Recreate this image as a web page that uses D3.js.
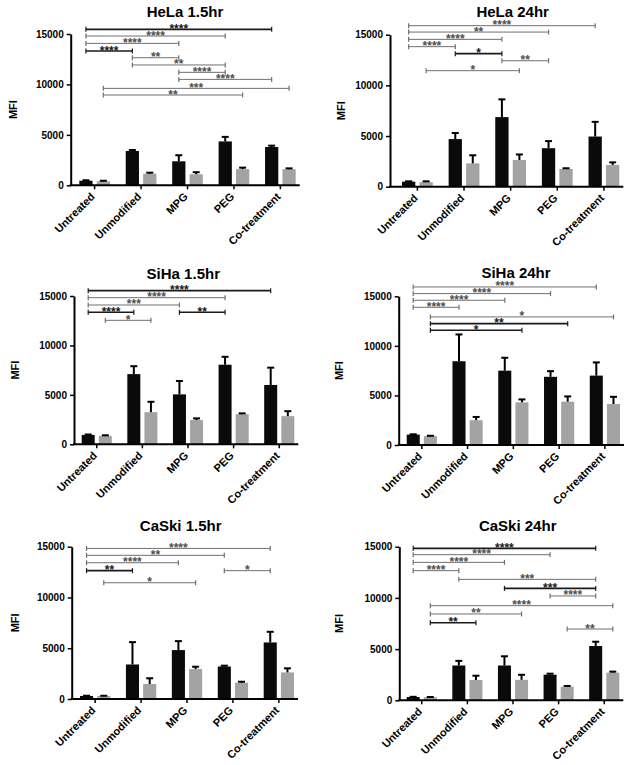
<!DOCTYPE html>
<html>
<head>
<meta charset="utf-8">
<script src="https://cdn.jsdelivr.net/npm/d3@7"></script>
<style>
  body { margin: 0; background: #fff; }
  svg { display: block; }
  text { font-family: Arial, "Liberation Sans", sans-serif; }
</style>
</head>
<body>
<div id="chart"></div>
<script>
// categories and series
const categories = ["Untreated", "Unmodified", "MPG", "PEG", "Co-treatment"];
const series = ["black", "grey"];
const yTicks = [0, 5000, 10000, 15000];
const titles = ["HeLa 1.5hr", "HeLa 24hr", "SiHa 1.5hr", "SiHa 24hr", "CaSki 1.5hr", "CaSki 24hr"];

// HeLa 1.5hr
const hela15Black = [450, 3400, 2380, 4350, 3800];
const hela15BlackErr = [50, 100, 600, 450, 130];
const hela15Grey = [400, 1150, 1100, 1600, 1600];
const hela15GreyErr = [50, 100, 200, 150, 80];
// [from category, from series, to category, to series, MFI level, stars, dark line]
const hela15Sig = [
  [0, 0, 4, 0, 15460, "****", 1],
  [0, 0, 3, 0, 14800, "****", 0],
  [0, 0, 2, 0, 14070, "****", 0],
  [0, 0, 1, 0, 13310, "****", 1],
  [1, 0, 2, 0, 12650, "**", 0],
  [1, 0, 3, 0, 11930, "**", 0],
  [2, 0, 3, 0, 11200, "****", 0],
  [2, 0, 4, 0, 10500, "****", 0],
  [0, 1, 4, 1, 9610, "***", 0],
  [0, 1, 3, 1, 8950, "**", 0]
];

// HeLa 24hr
const hela24Black = [500, 4700, 6870, 3800, 4950];
const hela24BlackErr = [30, 600, 1750, 700, 1450];
const hela24Grey = [450, 2300, 2630, 1750, 2150];
const hela24GreyErr = [80, 800, 550, 70, 250];
const hela24Sig = [
  [0, 0, 4, 0, 15890, "****", 0],
  [0, 0, 3, 0, 15260, "**", 0],
  [0, 0, 2, 0, 14540, "****", 0],
  [0, 0, 1, 0, 13820, "****", 0],
  [1, 0, 2, 0, 13130, "*", 1],
  [2, 0, 3, 0, 12430, "**", 0],
  [0, 1, 2, 1, 11450, "*", 0]
];

// SiHa 1.5hr
const siha15Black = [950, 7100, 5050, 8050, 6000];
const siha15BlackErr = [40, 800, 1350, 800, 1750];
const siha15Grey = [850, 3250, 2450, 3050, 2850];
const siha15GreyErr = [60, 1050, 170, 80, 500];
const siha15Sig = [
  [0, 0, 4, 0, 15540, "****", 1],
  [0, 0, 3, 0, 14830, "****", 0],
  [0, 0, 2, 0, 14090, "***", 0],
  [0, 0, 1, 0, 13350, "****", 1],
  [2, 0, 3, 0, 13350, "**", 1],
  [0, 1, 1, 1, 12540, "*", 0]
];

// SiHa 24hr
const siha24Black = [1050, 8450, 7500, 6880, 7000];
const siha24BlackErr = [30, 2700, 1300, 570, 1330];
const siha24Grey = [900, 2500, 4300, 4370, 4130];
const siha24GreyErr = [30, 330, 300, 530, 730];
const siha24Sig = [
  [0, 0, 4, 0, 15940, "****", 0],
  [0, 0, 3, 0, 15270, "****", 0],
  [0, 0, 2, 0, 14600, "****", 0],
  [0, 0, 1, 0, 13890, "****", 0],
  [0, 1, 4, 1, 12920, "*", 0],
  [0, 1, 3, 1, 12240, "**", 1],
  [0, 1, 2, 1, 11570, "*", 1]
];

// CaSki 1.5hr
const caski15Black = [300, 3400, 4820, 3200, 5570];
const caski15BlackErr = [20, 2200, 880, 80, 1050];
const caski15Grey = [300, 1480, 2950, 1600, 2620];
const caski15GreyErr = [20, 560, 230, 100, 400];
const caski15Sig = [
  [0, 0, 4, 0, 14830, "****", 0],
  [0, 0, 3, 0, 14150, "**", 0],
  [0, 0, 2, 0, 13420, "****", 0],
  [0, 0, 1, 0, 12640, "**", 1],
  [3, 0, 4, 0, 12640, "*", 0],
  [0, 1, 2, 1, 11450, "*", 0]
];

// CaSki 24hr
const caski24Black = [320, 3400, 3400, 2500, 5300];
const caski24BlackErr = [20, 450, 900, 100, 420];
const caski24Grey = [300, 1980, 2000, 1330, 2700];
const caski24GreyErr = [20, 420, 490, 70, 100];
const caski24Sig = [
  [0, 0, 4, 0, 14840, "****", 1],
  [0, 0, 3, 0, 14220, "****", 0],
  [0, 0, 2, 0, 13470, "****", 0],
  [0, 0, 1, 0, 12660, "****", 0],
  [1, 0, 4, 0, 11810, "***", 0],
  [2, 0, 4, 0, 10930, "***", 1],
  [3, 0, 4, 0, 10190, "****", 0],
  [0, 1, 4, 1, 9240, "****", 0],
  [0, 1, 2, 1, 8430, "**", 0],
  [0, 1, 1, 1, 7580, "**", 1],
  [3, 1, 4, 1, 6960, "**", 0]
];

const panelData = [
  [hela15Black, hela15BlackErr, hela15Grey, hela15GreyErr, hela15Sig],
  [hela24Black, hela24BlackErr, hela24Grey, hela24GreyErr, hela24Sig],
  [siha15Black, siha15BlackErr, siha15Grey, siha15GreyErr, siha15Sig],
  [siha24Black, siha24BlackErr, siha24Grey, siha24GreyErr, siha24Sig],
  [caski15Black, caski15BlackErr, caski15Grey, caski15GreyErr, caski15Sig],
  [caski24Black, caski24BlackErr, caski24Grey, caski24GreyErr, caski24Sig]
];

// layout of each panel (pixels)
const layout = [
  { axisX: 70.7, yTop: 34, yBase: 185.3, barStart: 79.3, barEnd: 295.7, titleX: 185, titleY: 16.5, mfiX: 13.3 },
  { axisX: 390, yTop: 34.7, yBase: 186.7, barStart: 402, barEnd: 619.3, titleX: 512.7, titleY: 16.5, mfiX: 341 },
  { axisX: 74, yTop: 296, yBase: 444.3, barStart: 81.7, barEnd: 294.3, titleX: 183.3, titleY: 278.5, mfiX: 15 },
  { axisX: 398.7, yTop: 296.3, yBase: 445, barStart: 406.7, barEnd: 620, titleX: 516, titleY: 278, mfiX: 339.3 },
  { axisX: 71.7, yTop: 546.7, yBase: 699, barStart: 80, barEnd: 294, titleX: 180.7, titleY: 530.5, mfiX: 15 },
  { axisX: 399.3, yTop: 546.7, yBase: 700.3, barStart: 406.7, barEnd: 619.3, titleX: 517.7, titleY: 530.5, mfiX: 339.3 }
];

const barColors = { black: "#0a0a0a", grey: "#a3a3a3" };

const svg = d3.select("#chart").append("svg")
  .attr("width", 633)
  .attr("height", 765)
  .style("background", "#fff");

panelData.forEach((pd, i) => {
  const L = layout[i];
  const [bMean, bErr, gMean, gErr, sig] = pd;
  const g = svg.append("g");

  const x = d3.scaleBand()
    .domain(categories)
    .range([L.barStart, L.barEnd])
    .paddingInner(0.34)
    .paddingOuter(0);

  const xs = d3.scaleBand()
    .domain(series)
    .range([0, x.bandwidth()])
    .paddingInner(0.24);

  const y = d3.scaleLinear().domain([0, 15000]).range([L.yBase, L.yTop]);

  const bars = [];
  categories.forEach((c, k) => {
    bars.push({ cat: c, ser: "black", v: bMean[k], e: bErr[k] });
    bars.push({ cat: c, ser: "grey", v: gMean[k], e: gErr[k] });
  });

  // bars
  g.selectAll("rect.bar")
    .data(bars)
    .enter().append("rect")
    .attr("class", "bar")
    .attr("x", d => x(d.cat) + xs(d.ser))
    .attr("y", d => y(d.v))
    .attr("width", xs.bandwidth())
    .attr("height", d => L.yBase - y(d.v))
    .attr("fill", d => barColors[d.ser]);

  // error bars (upper only)
  const cx = d => x(d.cat) + xs(d.ser) + xs.bandwidth() / 2;
  g.selectAll("line.err")
    .data(bars)
    .enter().append("line")
    .attr("class", "err")
    .attr("x1", cx).attr("x2", cx)
    .attr("y1", d => y(d.v)).attr("y2", d => y(d.v + d.e))
    .attr("stroke", "#000").attr("stroke-width", 2);
  g.selectAll("line.cap")
    .data(bars)
    .enter().append("line")
    .attr("class", "cap")
    .attr("x1", d => cx(d) - 3.5).attr("x2", d => cx(d) + 3.5)
    .attr("y1", d => y(d.v + d.e)).attr("y2", d => y(d.v + d.e))
    .attr("stroke", "#000").attr("stroke-width", 2);

  // y axis
  const yAxis = g.append("g")
    .attr("transform", `translate(${L.axisX},0)`)
    .call(d3.axisLeft(y).tickValues(yTicks).tickSize(4).tickSizeOuter(0).tickPadding(3).tickFormat(d3.format("d")));
  yAxis.select(".domain").attr("stroke-width", 2).attr("stroke", "#000");
  yAxis.selectAll(".tick line").attr("stroke-width", 1.5);
  yAxis.selectAll("text")
    .style("font-size", "10px")
    .style("font-weight", "bold")
    .attr("fill", "#000");

  // x axis
  const xAxis = g.append("g")
    .attr("transform", `translate(0,${L.yBase})`)
    .call(d3.axisBottom(x).tickSize(4).tickSizeOuter(0));
  xAxis.select(".domain").remove();
  xAxis.selectAll(".tick line").attr("stroke-width", 1.5);
  xAxis.selectAll("text")
    .attr("x", 0).attr("y", 0).attr("dy", 0)
    .attr("transform", "translate(1,12) rotate(-45)")
    .style("text-anchor", "end")
    .style("font-size", "11px")
    .style("font-weight", "bold")
    .attr("fill", "#000");
  g.append("line")
    .attr("x1", L.axisX - 1).attr("x2", L.barEnd + 4)
    .attr("y1", L.yBase).attr("y2", L.yBase)
    .attr("stroke", "#000").attr("stroke-width", 2);

  // title
  g.append("text")
    .attr("x", L.titleX)
    .attr("y", L.titleY)
    .attr("text-anchor", "middle")
    .style("font-size", "15px")
    .style("font-weight", "bold")
    .text(titles[i]);

  // y label
  g.append("text")
    .attr("transform", `translate(${L.mfiX + 4},${(L.yTop + L.yBase) / 2}) rotate(-90)`)
    .attr("text-anchor", "middle")
    .style("font-size", "11px")
    .style("font-weight", "bold")
    .text("MFI");

  // significance brackets
  const sx = (c, s) => x(categories[c]) + xs(series[s]) + xs.bandwidth() / 2;
  sig.forEach(s => {
    const x1 = sx(s[0], s[1]);
    const x2 = sx(s[2], s[3]);
    const yy = y(s[4]);
    const col = s[6] ? "#1a1a1a" : "#707070";
    const w = s[6] ? 1.6 : 1;
    g.append("line")
      .attr("x1", x1).attr("x2", x2).attr("y1", yy).attr("y2", yy)
      .attr("stroke", col).attr("stroke-width", w);
    [x1, x2].forEach(xe => {
      g.append("line")
        .attr("x1", xe).attr("x2", xe).attr("y1", yy - 2.5).attr("y2", yy + 2.5)
        .attr("stroke", col).attr("stroke-width", 1.2);
    });
    g.append("text")
      .attr("x", (x1 + x2) / 2)
      .attr("y", yy + 3.5)
      .attr("text-anchor", "middle")
      .style("font-size", "12px")
      .style("font-weight", "bold")
      .attr("fill", s[6] ? "#1a1a1a" : "#505050")
      .text(s[5]);
  });
});
</script>
</body>
</html>
